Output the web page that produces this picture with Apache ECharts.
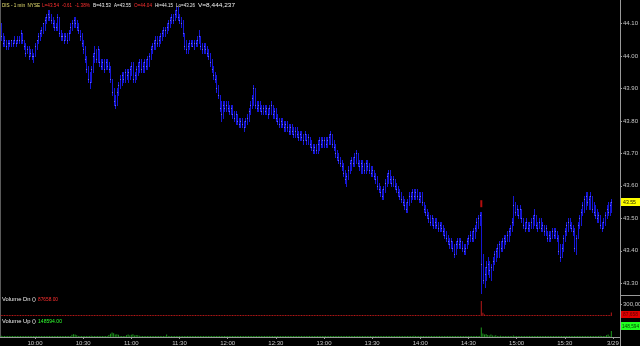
<!DOCTYPE html>
<html><head><meta charset="utf-8">
<script src="https://cdn.jsdelivr.net/npm/echarts@6/dist/echarts.min.js"></script>
<style>html,body{margin:0;padding:0;background:#000}#c{width:640px;height:346px}</style>
</head><body><div id="c"></div>
<script>
// 1-minute bars starting 9:39 (minutes since midnight)
const startMinute = 579;
const opens = [
44.09,44.06,44.04,44.05,44.03,44.04,44.04,44.05,44.04,44.05,
44.04,44.05,44.05,44.07,44.05,44.03,44.01,44.02,44.00,44.01,
44.00,44.00,44.03,44.05,44.06,44.07,44.08,44.10,44.11,44.12,
44.13,44.12,44.11,44.10,44.09,44.09,44.12,44.07,44.06,44.06,
44.05,44.06,44.05,44.07,44.09,44.10,44.11,44.10,44.09,44.08,
44.06,44.04,44.02,43.99,43.96,43.93,43.92,43.96,44.00,44.01,
43.99,44.02,43.98,43.97,43.98,43.96,43.98,43.97,43.96,43.93,
43.89,43.86,43.85,43.89,43.91,43.93,43.94,43.93,43.95,43.94,
43.95,43.96,43.97,43.93,43.94,43.96,43.97,43.98,43.96,43.97,
43.98,43.97,43.99,44.00,44.02,44.03,44.04,44.05,44.04,44.05,
44.06,44.07,44.08,44.08,44.09,44.10,44.11,44.12,44.11,44.13,
44.14,44.12,44.11,44.10,44.07,44.03,44.02,44.03,44.04,44.04,
44.03,44.04,44.04,44.05,44.06,44.03,44.02,44.03,44.02,44.01,
44.00,43.98,43.96,43.94,43.93,43.90,43.88,43.84,43.82,43.85,
43.84,43.85,43.84,43.83,43.84,43.82,43.81,43.82,43.80,43.79,
43.80,43.79,43.78,43.80,43.81,43.83,43.85,43.87,43.90,43.85,
43.84,43.85,43.84,43.83,43.84,43.83,43.84,43.82,43.84,43.85,
43.82,43.83,43.81,43.80,43.79,43.80,43.79,43.78,43.79,43.78,
43.77,43.78,43.77,43.76,43.77,43.76,43.75,43.76,43.75,43.74,
43.76,43.74,43.75,43.73,43.72,43.71,43.72,43.71,43.73,43.74,
43.73,43.74,43.74,43.73,43.74,43.75,43.76,43.73,43.72,43.70,
43.69,43.68,43.67,43.66,43.64,43.62,43.63,43.65,43.67,43.68,
43.67,43.69,43.70,43.67,43.66,43.67,43.66,43.65,43.67,43.66,
43.65,43.64,43.65,43.63,43.62,43.60,43.59,43.58,43.57,43.59,
43.61,43.63,43.64,43.62,43.61,43.62,43.60,43.59,43.58,43.57,
43.56,43.55,43.54,43.53,43.55,43.57,43.57,43.58,43.57,43.58,
43.57,43.56,43.57,43.55,43.53,43.52,43.51,43.50,43.49,43.50,
43.48,43.49,43.48,43.47,43.48,43.47,43.46,43.45,43.44,43.43,
43.42,43.43,43.41,43.39,43.42,43.43,43.42,43.43,43.41,43.40,
43.41,43.43,43.44,43.45,43.44,43.46,43.47,43.49,43.50,43.51,
43.36,43.31,43.33,43.35,43.36,43.34,43.35,43.37,43.39,43.40,
43.41,43.42,43.41,43.43,43.44,43.43,43.45,43.46,43.47,43.49,
43.54,43.52,43.53,43.51,43.53,43.50,43.48,43.47,43.49,43.47,
43.48,43.49,43.50,43.51,43.48,43.47,43.49,43.47,43.48,43.46,
43.46,43.44,43.45,43.44,43.46,43.45,43.46,43.44,43.40,43.38,
43.41,43.44,43.46,43.48,43.49,43.48,43.47,43.46,43.41,43.44,
43.48,43.50,43.52,43.54,43.56,43.57,43.55,43.56,43.57,43.53,
43.52,43.51,43.50,43.51,43.48,43.47,43.49,43.51,43.53,43.52,43.54];
const highs = [
44.10,44.07,44.06,44.05,44.05,44.05,44.05,44.05,44.06,44.05,
44.06,44.06,44.08,44.07,44.05,44.04,44.03,44.03,44.02,44.02,
44.01,44.04,44.05,44.07,44.08,44.09,44.10,44.12,44.13,44.14,
44.14,44.13,44.12,44.11,44.10,44.13,44.12,44.08,44.07,44.07,
44.07,44.07,44.08,44.10,44.11,44.12,44.12,44.11,44.10,44.08,
44.07,44.05,44.03,44.00,43.97,43.95,43.97,44.01,44.03,44.02,
44.03,44.02,43.99,43.99,43.99,43.99,43.99,43.98,43.97,43.93,
43.90,43.88,43.90,43.92,43.94,43.95,43.95,43.96,43.96,43.96,
43.97,43.98,43.98,43.95,43.97,43.98,43.99,43.99,43.98,43.99,
43.99,44.00,44.01,44.03,44.04,44.05,44.06,44.06,44.06,44.07,
44.08,44.09,44.09,44.10,44.11,44.12,44.13,44.13,44.14,44.15,
44.15,44.13,44.12,44.11,44.07,44.05,44.04,44.05,44.05,44.05,
44.05,44.05,44.06,44.08,44.06,44.04,44.04,44.04,44.03,44.02,
44.01,43.99,43.97,43.95,43.94,43.91,43.88,43.86,43.86,43.86,
43.86,43.86,43.85,43.85,43.85,43.83,43.83,43.82,43.81,43.81,
43.81,43.80,43.81,43.82,43.84,43.86,43.88,43.91,43.90,43.86,
43.86,43.86,43.85,43.85,43.85,43.85,43.84,43.85,43.86,43.85,
43.84,43.84,43.82,43.81,43.81,43.81,43.80,43.80,43.80,43.79,
43.79,43.79,43.78,43.78,43.78,43.77,43.77,43.77,43.76,43.77,
43.76,43.76,43.75,43.74,43.73,43.73,43.73,43.74,43.75,43.75,
43.75,43.75,43.75,43.75,43.76,43.77,43.76,43.74,43.73,43.71,
43.70,43.69,43.68,43.67,43.65,43.64,43.66,43.68,43.69,43.69,
43.70,43.71,43.70,43.68,43.68,43.68,43.67,43.68,43.68,43.67,
43.66,43.66,43.65,43.64,43.63,43.61,43.60,43.59,43.60,43.62,
43.64,43.65,43.65,43.63,43.63,43.62,43.61,43.60,43.59,43.58,
43.57,43.56,43.55,43.56,43.58,43.58,43.59,43.59,43.59,43.59,
43.58,43.58,43.58,43.55,43.54,43.53,43.52,43.51,43.51,43.50,
43.50,43.50,43.49,43.49,43.49,43.48,43.47,43.46,43.45,43.44,
43.44,43.43,43.42,43.43,43.44,43.44,43.44,43.43,43.42,43.42,
43.44,43.45,43.46,43.46,43.47,43.48,43.50,43.51,43.52,43.52,
43.39,43.35,43.37,43.38,43.37,43.36,43.38,43.40,43.41,43.42,
43.43,43.43,43.44,43.45,43.45,43.46,43.47,43.48,43.50,43.57,
43.55,43.54,43.53,43.54,43.53,43.50,43.49,43.50,43.49,43.49,
43.50,43.51,43.53,43.51,43.49,43.50,43.50,43.49,43.48,43.48,
43.46,43.46,43.46,43.47,43.47,43.47,43.46,43.45,43.42,43.42,
43.45,43.47,43.49,43.50,43.50,43.49,43.48,43.47,43.45,43.49,
43.51,43.53,43.55,43.57,43.58,43.58,43.57,43.58,43.57,43.55,
43.54,43.53,43.52,43.51,43.49,43.50,43.52,43.54,43.55,43.55,43.56];
const lows = [
44.05,44.03,44.03,44.02,44.02,44.03,44.03,44.03,44.04,44.03,
44.04,44.04,44.04,44.04,44.02,44.00,44.01,43.99,44.00,43.99,
43.98,44.00,44.02,44.04,44.05,44.06,44.07,44.08,44.10,44.11,
44.11,44.10,44.09,44.08,44.08,44.08,44.06,44.05,44.05,44.04,
44.05,44.04,44.05,44.07,44.08,44.09,44.09,44.08,44.07,44.05,
44.03,44.01,43.98,43.95,43.92,43.90,43.92,43.95,43.98,43.98,
43.98,43.97,43.96,43.96,43.95,43.96,43.96,43.95,43.92,43.88,
43.85,43.84,43.85,43.88,43.90,43.91,43.92,43.92,43.93,43.92,
43.93,43.94,43.92,43.92,43.93,43.94,43.95,43.95,43.95,43.95,
43.96,43.96,43.97,43.99,44.01,44.02,44.02,44.03,44.03,44.04,
44.05,44.06,44.06,44.07,44.08,44.09,44.10,44.10,44.11,44.12,
44.11,44.10,44.09,44.06,44.02,44.01,44.01,44.02,44.03,44.03,
44.02,44.03,44.03,44.04,44.02,44.01,44.01,44.01,44.00,43.99,
43.97,43.95,43.93,43.92,43.89,43.87,43.83,43.80,43.81,43.83,
43.83,43.83,43.82,43.82,43.81,43.80,43.79,43.79,43.78,43.78,
43.78,43.77,43.78,43.79,43.80,43.82,43.84,43.85,43.84,43.83,
43.83,43.83,43.82,43.82,43.82,43.82,43.81,43.82,43.82,43.81,
43.81,43.80,43.79,43.78,43.78,43.78,43.77,43.77,43.77,43.76,
43.76,43.76,43.75,43.75,43.75,43.74,43.74,43.74,43.73,43.74,
43.73,43.73,43.72,43.71,43.70,43.70,43.70,43.70,43.71,43.72,
43.72,43.72,43.72,43.72,43.73,43.73,43.72,43.71,43.69,43.68,
43.67,43.66,43.65,43.63,43.61,43.60,43.62,43.64,43.65,43.66,
43.66,43.67,43.66,43.65,43.64,43.64,43.64,43.64,43.65,43.64,
43.63,43.63,43.62,43.61,43.59,43.58,43.57,43.56,43.56,43.58,
43.60,43.61,43.61,43.60,43.60,43.59,43.58,43.57,43.56,43.55,
43.54,43.53,43.52,43.52,43.54,43.55,43.56,43.56,43.56,43.56,
43.55,43.55,43.54,43.52,43.51,43.50,43.49,43.48,43.48,43.47,
43.47,43.47,43.46,43.46,43.46,43.45,43.44,43.43,43.42,43.41,
43.41,43.40,43.38,43.39,43.41,43.41,43.41,43.40,43.39,43.39,
43.41,43.42,43.43,43.43,43.43,43.44,43.46,43.47,43.48,43.27,
43.30,43.29,43.31,43.33,43.32,43.31,43.34,43.36,43.37,43.38,
43.38,43.40,43.40,43.41,43.42,43.43,43.43,43.45,43.46,43.48,
43.51,43.51,43.50,43.50,43.49,43.47,43.46,43.47,43.46,43.46,
43.47,43.47,43.48,43.47,43.46,43.47,43.46,43.46,43.45,43.45,
43.43,43.43,43.43,43.44,43.44,43.44,43.43,43.39,43.37,43.38,
43.40,43.43,43.45,43.46,43.47,43.46,43.45,43.40,43.39,43.44,
43.47,43.48,43.51,43.52,43.53,43.54,43.53,43.53,43.52,43.51,
43.50,43.49,43.49,43.47,43.46,43.47,43.48,43.50,43.51,43.51,43.52];
const closes = [
44.06,44.04,44.05,44.03,44.04,44.04,44.05,44.04,44.05,44.04,
44.05,44.05,44.07,44.05,44.03,44.01,44.02,44.00,44.01,44.00,
44.00,44.03,44.05,44.06,44.07,44.08,44.10,44.11,44.12,44.13,
44.12,44.11,44.10,44.09,44.09,44.12,44.07,44.06,44.06,44.05,
44.06,44.05,44.07,44.09,44.10,44.11,44.10,44.09,44.08,44.06,
44.04,44.02,43.99,43.96,43.93,43.92,43.96,44.00,44.01,43.99,
44.02,43.98,43.97,43.98,43.96,43.98,43.97,43.96,43.93,43.89,
43.86,43.85,43.89,43.91,43.93,43.94,43.93,43.95,43.94,43.95,
43.96,43.97,43.93,43.94,43.96,43.97,43.98,43.96,43.97,43.98,
43.97,43.99,44.00,44.02,44.03,44.04,44.05,44.04,44.05,44.06,
44.07,44.08,44.08,44.09,44.10,44.11,44.12,44.11,44.13,44.14,
44.12,44.11,44.10,44.07,44.03,44.02,44.03,44.04,44.04,44.03,
44.04,44.04,44.05,44.06,44.03,44.02,44.03,44.02,44.01,44.00,
43.98,43.96,43.94,43.93,43.90,43.88,43.84,43.82,43.85,43.84,
43.85,43.84,43.83,43.84,43.82,43.81,43.82,43.80,43.79,43.80,
43.79,43.78,43.80,43.81,43.83,43.85,43.87,43.90,43.85,43.84,
43.85,43.84,43.83,43.84,43.83,43.84,43.82,43.84,43.85,43.82,
43.83,43.81,43.80,43.79,43.80,43.79,43.78,43.79,43.78,43.77,
43.78,43.77,43.76,43.77,43.76,43.75,43.76,43.75,43.74,43.76,
43.74,43.75,43.73,43.72,43.71,43.72,43.71,43.73,43.74,43.73,
43.74,43.74,43.73,43.74,43.75,43.76,43.73,43.72,43.70,43.69,
43.68,43.67,43.66,43.64,43.62,43.63,43.65,43.67,43.68,43.67,
43.69,43.70,43.67,43.66,43.67,43.66,43.65,43.67,43.66,43.65,
43.64,43.65,43.63,43.62,43.60,43.59,43.58,43.57,43.59,43.61,
43.63,43.64,43.62,43.61,43.62,43.60,43.59,43.58,43.57,43.56,
43.55,43.54,43.53,43.55,43.57,43.57,43.58,43.57,43.58,43.57,
43.56,43.57,43.55,43.53,43.52,43.51,43.50,43.49,43.50,43.48,
43.49,43.48,43.47,43.48,43.47,43.46,43.45,43.44,43.43,43.42,
43.43,43.41,43.39,43.42,43.43,43.42,43.43,43.41,43.40,43.41,
43.43,43.44,43.45,43.44,43.46,43.47,43.49,43.50,43.51,43.36,
43.31,43.33,43.35,43.36,43.34,43.35,43.37,43.39,43.40,43.41,
43.42,43.41,43.43,43.44,43.43,43.45,43.46,43.47,43.49,43.54,
43.52,43.53,43.51,43.53,43.50,43.48,43.47,43.49,43.47,43.48,
43.49,43.50,43.51,43.48,43.47,43.49,43.47,43.48,43.46,43.47,
43.44,43.45,43.44,43.46,43.45,43.46,43.44,43.40,43.38,43.41,
43.44,43.46,43.48,43.49,43.48,43.47,43.46,43.41,43.44,43.48,
43.50,43.52,43.54,43.56,43.57,43.55,43.56,43.57,43.53,43.52,
43.51,43.50,43.51,43.48,43.47,43.49,43.51,43.53,43.52,43.54,43.55];
// volume in thousands of shares
const volUpK = [
32,14,12,10,15,9,12,10,8,11,13,9,15,10,12,8,10,9,11,12,
14,18,10,12,9,11,15,13,10,8,12,9,10,11,14,16,9,10,12,8,
10,12,9,11,55,70,60,45,20,15,12,10,14,11,9,25,30,28,22,10,
12,9,11,10,13,12,9,50,80,110,95,60,70,55,20,12,10,14,45,60,
40,55,70,35,50,45,30,12,10,9,11,13,10,12,9,14,10,11,12,9,
13,10,12,60,15,11,9,12,10,14,12,9,11,10,15,12,9,10,13,11,
10,9,12,11,14,10,9,11,12,10,13,11,9,12,10,14,11,10,12,9,
11,13,10,9,12,11,10,14,9,11,12,10,13,9,11,10,12,25,11,9,
12,10,11,13,9,10,12,11,9,14,10,11,12,9,10,13,11,10,9,12,
10,11,9,12,10,13,11,9,10,12,11,10,9,13,10,12,11,9,10,11,
12,9,11,10,13,10,9,12,11,10,14,9,11,12,10,13,11,9,10,12,
11,10,9,12,10,11,13,9,10,12,11,10,9,12,10,14,11,9,10,12,
11,10,12,9,10,13,11,10,9,12,10,11,9,13,10,12,11,30,10,9,
12,10,11,9,13,10,12,11,9,10,12,11,10,9,13,10,11,12,9,10,
11,12,10,9,12,10,11,13,9,10,12,11,10,13,12,14,11,12,15,240,
90,60,75,50,40,65,35,30,45,25,20,30,18,15,22,14,12,16,13,35,
20,15,12,14,11,13,10,12,11,9,12,10,14,11,10,12,9,11,13,10,
11,12,9,10,13,11,10,12,9,11,10,12,11,9,13,10,12,11,10,12,
11,13,10,12,14,11,10,12,13,15,20,25,14,30,18,12,22,45,60,25,
148.594];
const volDnK = [
22,12,10,11,13,10,12,11,10,12,11,10,13,12,10,11,12,14,11,12,
13,10,11,12,10,11,12,10,11,13,12,10,11,12,10,14,12,11,10,12,
11,10,12,11,13,12,10,11,12,14,13,12,11,13,14,12,11,10,12,11,
10,12,11,10,12,11,10,13,12,11,10,14,12,11,10,12,11,10,12,11,
13,12,11,10,12,11,10,12,11,10,12,11,10,12,11,10,12,11,10,12,
11,10,12,11,10,12,11,10,12,13,11,10,12,14,13,12,11,10,12,11,
10,12,11,10,12,11,10,12,11,10,12,11,13,12,14,13,12,15,11,10,
12,11,10,12,11,10,12,11,10,12,11,10,12,11,10,12,11,13,14,11,
10,12,11,10,12,11,10,12,11,10,12,11,10,12,11,10,12,11,10,12,
11,10,12,11,10,12,11,10,12,11,10,12,11,10,12,11,10,12,11,10,
12,11,10,12,11,10,12,11,13,12,11,12,13,12,14,13,11,10,12,11,
10,12,11,10,12,11,10,12,11,10,12,11,10,12,11,13,12,11,12,11,
10,12,11,10,12,11,10,12,11,10,12,11,10,12,11,10,12,11,10,12,
11,13,12,11,12,11,10,12,11,10,12,11,10,12,11,10,12,11,12,11,
12,11,13,14,12,11,10,12,11,10,12,11,10,12,11,10,12,11,14,375,
80,40,25,18,14,16,12,11,10,12,11,10,12,11,10,12,11,10,12,13,
11,10,12,11,10,12,11,10,12,11,10,12,11,10,12,11,10,12,11,10,
12,11,10,12,11,10,12,11,10,12,11,10,12,11,10,12,11,10,12,11,
10,12,11,10,12,11,10,12,11,10,12,11,10,12,11,14,12,11,13,12,
87.658];
// red alert marker on the 14:38 bar (minute, price)
const alertMarks = [[878, 43.545]];
const priceTicks = [43.3, 43.4, 43.5, 43.6, 43.7, 43.8, 43.9, 44.0, 44.1];
const timeTicks = [600, 630, 660, 690, 720, 750, 780, 810, 840, 870, 900, 930, 960];
const timeLabels = ['10:00','10:30','11:00','11:30','12:00','12:30','13:00','13:30','14:00','14:30','15:00','15:30','3/29'];
const volTicksK = [300];
const lastPrice = 43.55;

const FONT = '"Liberation Sans", Arial, sans-serif';
const chart = echarts.init(document.getElementById('c'), null, {renderer: 'canvas'});
const ohlc = opens.map((o, i) => [startMinute + i, o, highs[i], lows[i], closes[i]]);
const up = volUpK.map((v, i) => [startMinute + i, v]);
const dn = volDnK.map((v, i) => [startMinute + i, v]);
const xMin = 578.2, xMax = 964.4;

function renderBar(params, api) {
  const x = Math.round(api.coord([api.value(0), 0])[0]) + 0.5;
  const yh = api.coord([0, api.value(2)])[1];
  const yl = api.coord([0, api.value(3)])[1];
  const yc = api.coord([0, api.value(4)])[1];
  return {type: 'group', children: [
    {type: 'line', shape: {x1: x, y1: Math.round(yh), x2: x, y2: Math.round(yl) + 1},
     style: {stroke: '#1616d4', lineWidth: 1}},
    {type: 'rect', shape: {x: x - 0.5, y: Math.round(yc), width: 1, height: 1},
     style: {fill: '#6868f4'}}
  ]};
}

function xAx(g, showLabels) {
  return {
    type: 'value', gridIndex: g, min: xMin, max: xMax,
    splitLine: {show: false},
    axisLine: {show: showLabels, lineStyle: {color: '#9a9a9a', width: 1}},
    axisTick: {show: showLabels, length: 2, customValues: timeTicks, lineStyle: {color: '#9a9a9a'}},
    axisLabel: {show: showLabels, customValues: timeTicks, color: '#c8c8c8', fontSize: 6, fontFamily: FONT, margin: 3,
      formatter: v => timeLabels[timeTicks.indexOf(Math.round(v))] || ''}
  };
}
const gridBase = {left: 0, right: 20, outerBoundsMode: 'none', containLabel: false};
const option = {
  backgroundColor: '#000000',
  animation: false,
  grid: [
    Object.assign({top: 0, height: 295}, gridBase),
    Object.assign({top: 296, height: 20}, gridBase),
    Object.assign({top: 317, height: 20}, gridBase)
  ],
  xAxis: [xAx(0, false), xAx(1, false), xAx(2, true)],
  yAxis: [
    {type: 'value', gridIndex: 0, position: 'right', min: 43.264, max: 44.172,
     splitLine: {show: false}, axisLine: {show: false},
     axisTick: {show: true, length: 2, customValues: priceTicks, lineStyle: {color: '#9a9a9a'}},
     axisLabel: {customValues: priceTicks, formatter: v => v.toFixed(2), color: '#c8c8c8', fontSize: 6, fontFamily: FONT, margin: 3}},
    {type: 'value', gridIndex: 1, position: 'right', min: 0, max: 500,
     splitLine: {show: false}, axisLine: {show: false},
     axisTick: {show: true, length: 2, customValues: volTicksK, lineStyle: {color: '#9a9a9a'}},
     axisLabel: {customValues: volTicksK, formatter: v => (v * 1000).toLocaleString('en-US'), color: '#c8c8c8', fontSize: 6, fontFamily: FONT, margin: 3}},
    {type: 'value', gridIndex: 2, position: 'right', min: 0, max: 500,
     splitLine: {show: false}, axisLine: {show: false}, axisTick: {show: false}, axisLabel: {show: false}}
  ],
  series: [
    {type: 'custom', xAxisIndex: 0, yAxisIndex: 0, data: ohlc, renderItem: renderBar,
     encode: {x: 0, y: [1, 2, 3, 4]}, clip: false},
    {type: 'scatter', xAxisIndex: 0, yAxisIndex: 0, data: alertMarks, symbol: 'rect', symbolSize: [2, 7],
     itemStyle: {color: '#e01010'}},
    {type: 'bar', xAxisIndex: 1, yAxisIndex: 1, data: dn, barWidth: 1, barMinHeight: 1, itemStyle: {color: '#b81818'}},
    {type: 'bar', xAxisIndex: 2, yAxisIndex: 2, data: up, barWidth: 1, barMinHeight: 1, itemStyle: {color: '#1e9a1e'}}
  ]
};
chart.setOption(option);

// text pieces fitted into the horizontal spans they occupy in the picture
const mctx = document.createElement('canvas').getContext('2d');
function fitText(str, x0, x1, y, color, size) {
  const font = (size || 6) + 'px ' + FONT;
  mctx.font = font;
  const w = mctx.measureText(str).width;
  return {type: 'text', x: x0, y: y, scaleX: Math.min(1.2, (x1 - x0) / w), silent: true,
    style: {text: str, fill: color, font: font, verticalAlign: 'middle'}};
}
const headerParts = [
  ['DIS - 1 min  NYSE', 2, 40, '#e8e070'],
  ['L=43.54', 42, 59, '#ff3030'],
  ['-0.61', 62, 72, '#ff3030'],
  ['-1.38%', 75, 90, '#ff3030'],
  ['B=43.53', 93, 111, '#f0f0f0'],
  ['A=43.55', 114, 131, '#f0f0f0'],
  ['O=44.04', 134, 152, '#ff3030'],
  ['Hi=44.15', 155, 173, '#f0f0f0'],
  ['Lo=43.26', 176, 195, '#f0f0f0'],
  ['V=8,444,237', 198, 235, '#f0f0f0']
];
const yLast = chart.convertToPixel({yAxisIndex: 0}, lastPrice);
const graphics = [
  {type: 'line', shape: {x1: 620.5, y1: 0, x2: 620.5, y2: 346}, style: {stroke: '#9a9a9a', lineWidth: 1}, silent: true},
  {type: 'line', shape: {x1: 0.5, y1: 0, x2: 0.5, y2: 337}, style: {stroke: '#5a5a5a', lineWidth: 1}, silent: true},
  {type: 'line', shape: {x1: 620, y1: 295.5, x2: 640, y2: 295.5}, style: {stroke: '#9a9a9a', lineWidth: 1}, silent: true},
  {type: 'rect', shape: {x: 621, y: Math.round(yLast) - 4, width: 19, height: 8}, style: {fill: '#ffff00'}, silent: true},
  fitText(lastPrice.toFixed(2), 623, 636, Math.round(yLast), '#202000'),
  fitText('Volume Dn ()', 2, 36, 299, '#f0f0f0'),
  fitText('87658.00', 38, 58, 299, '#ff3030'),
  fitText('Volume Up ()', 2, 36, 321, '#f0f0f0'),
  fitText('148594.00', 38, 62, 321, '#30ff30'),
  {type: 'rect', shape: {x: 621, y: 311, width: 19, height: 7}, style: {fill: '#e00000'}, silent: true},
  fitText('87,658', 623, 638, 314.5, '#600000'),
  {type: 'rect', shape: {x: 621, y: 322, width: 19, height: 8}, style: {fill: '#20ff20'}, silent: true},
  fitText('148,594', 622, 639, 326, '#004000')
].concat(headerParts.map(p => fitText(p[0], p[1], p[2], 5, p[3])));
chart.setOption({graphic: graphics});
</script>
</body></html>
